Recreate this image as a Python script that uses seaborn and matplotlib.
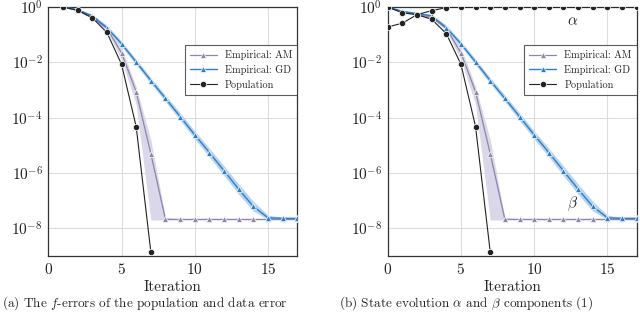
import numpy as np
import pandas as pd
import matplotlib
matplotlib.use('Agg')
import matplotlib.pyplot as plt
import seaborn as sns

# ---- datos ----
it_left = list(range(1, 18))
am_left = [1.0, 0.76, 0.41, 0.17, 0.022, 8.6e-4, 5e-6, 2.1e-8, 2.1e-8, 2.1e-8,
           2.1e-8, 2.1e-8, 2.1e-8, 2.1e-8, 2.1e-8, 2.1e-8, 2.1e-8]
am_left_lo = [0.97, 0.72, 0.38, 0.14, 0.012, 3e-4, 2e-8, 2e-8, 2e-8, 2e-8,
              2e-8, 2e-8, 2e-8, 2e-8, 2e-8, 2e-8, 2e-8]
am_left_hi = [1.0, 0.8, 0.45, 0.2, 0.035, 1.3e-3, 1.6e-5, 2.5e-8, 2.2e-8, 2.2e-8,
              2.2e-8, 2.2e-8, 2.2e-8, 2.2e-8, 2.2e-8, 2.2e-8, 2.2e-8]
gd_left = [1.0, 0.8, 0.48, 0.18, 0.047, 0.0103, 2.2e-3, 5e-4, 1.1e-4, 2.4e-5,
           5.5e-6, 1.2e-6, 2.6e-7, 6.2e-8, 2.4e-8, 2.3e-8, 2.3e-8]
gd_left_lo = [0.97, 0.74, 0.43, 0.15, 0.038, 0.008, 1.7e-3, 3.8e-4, 8e-5, 1.7e-5,
              3.8e-6, 8e-7, 1.7e-7, 4.2e-8, 2.1e-8, 2.2e-8, 2.2e-8]
gd_left_hi = [1.0, 0.86, 0.54, 0.22, 0.058, 0.013, 2.8e-3, 6.5e-4, 1.5e-4, 3.3e-5,
              7.8e-6, 1.8e-6, 4e-7, 9.5e-8, 3e-8, 2.5e-8, 2.4e-8]
it_pop_left = [1, 2, 3, 4, 5, 6, 7]
pop_left = [1.0, 0.76, 0.41, 0.12, 0.0085, 4.7e-5, 1.4e-9]

it_right = list(range(0, 18))
am_right = [1.0, 0.65, 0.55, 0.42] + am_left[3:]
am_right_lo = [0.97, 0.6, 0.5, 0.38] + am_left_lo[3:]
am_right_hi = [1.0, 0.7, 0.6, 0.46] + am_left_hi[3:]
gd_right = [1.0, 0.7, 0.58, 0.48] + gd_left[3:]
gd_right_lo = [0.97, 0.65, 0.53, 0.43] + gd_left_lo[3:]
gd_right_hi = [1.0, 0.75, 0.63, 0.54] + gd_left_hi[3:]
it_beta = [0, 1, 2, 3, 4, 5, 6, 7]
beta = [1.0, 0.62, 0.53, 0.36, 0.11, 0.0085, 4.7e-5, 1.4e-9]
alpha = [0.19, 0.26, 0.53, 0.74, 0.95, 1.0, 1.0, 1.0, 1.0, 1.0, 1.0, 1.0,
         1.0, 1.0, 1.0, 1.0, 1.0, 1.0]

xticks = [0, 5, 10, 15]
yticks = [1e0, 1e-2, 1e-4, 1e-6, 1e-8]

caption_a = '(a) The $f$-errors of the population and data error'
caption_b = r'(b) State evolution $\alpha$ and $\beta$ components (1)'

# ---- estilo ----
sns.set_theme(style="whitegrid")
plt.rcParams['font.family'] = ['cmr10', 'DejaVu Serif']
plt.rcParams['mathtext.fontset'] = 'cm'
plt.rcParams['axes.formatter.use_mathtext'] = True

c_am = '#8c86aa'
c_am_band = '#d9d7e8'
c_gd = '#2b7fc9'
c_gd_band = '#b7d3ee'
c_pop = '#222222'

fig = plt.figure(figsize=(6.4, 3.12), dpi=100)
ax1 = fig.add_axes([0.0755, 0.1795, 0.389, 0.798])
ax2 = fig.add_axes([0.6058, 0.1795, 0.389, 0.798])


def draw_emp(ax, x, am, am_lo, am_hi, gd, gd_lo, gd_hi):
    ax.fill_between(x, am_lo, am_hi, color=c_am_band, lw=0, zorder=1)
    ax.fill_between(x, gd_lo, gd_hi, color=c_gd_band, lw=0, zorder=1)
    sns.lineplot(x=x, y=am, ax=ax, color=c_am, marker='^', markersize=4,
                 markeredgewidth=0.5, linewidth=0.9, label='Empirical: AM', zorder=3)
    sns.lineplot(x=x, y=gd, ax=ax, color=c_gd, marker='^', markersize=4,
                 markeredgewidth=0.5, linewidth=1.0, label='Empirical: GD', zorder=3)


draw_emp(ax1, it_left, am_left, am_left_lo, am_left_hi, gd_left, gd_left_lo, gd_left_hi)
sns.lineplot(x=it_pop_left, y=pop_left, ax=ax1, color=c_pop, marker='o', markersize=4.5,
             markeredgewidth=0.5, linewidth=0.8, label='Population', zorder=4)

draw_emp(ax2, it_right, am_right, am_right_lo, am_right_hi, gd_right, gd_right_lo, gd_right_hi)
sns.lineplot(x=it_beta, y=beta, ax=ax2, color=c_pop, marker='o', markersize=4.5,
             markeredgewidth=0.5, linewidth=0.8, label='Population', zorder=4)
sns.lineplot(x=it_right, y=alpha, ax=ax2, color=c_pop, marker='o', markersize=4.5,
             markeredgewidth=0.5, linewidth=0.8, zorder=4)
ax2.text(12.6, 0.29, r'$\alpha$', fontsize=11, ha='center', va='center')
ax2.text(12.6, 8e-8, r'$\beta$', fontsize=11, ha='center', va='center')

for ax in (ax1, ax2):
    ax.set_yscale('log')
    ax.set_xlim(0, 17)
    ax.set_ylim(1e-9, 1.0)
    ax.set_xticks(xticks)
    ax.set_yticks(yticks)
    ax.minorticks_off()
    ax.tick_params(axis='both', labelsize=11, length=3, direction='in', pad=4,
                   colors='#222222')
    ax.grid(True, color='#dddddd', linewidth=0.8)
    for s in ax.spines.values():
        s.set_color('#333333')
        s.set_linewidth(0.9)
    ax.set_xlabel('Iteration', fontsize=11, labelpad=3)
    ax.set_ylabel('')
    leg = ax.legend(loc='upper right', bbox_to_anchor=(1.0, 0.847), borderaxespad=0,
                    fontsize=7.4, frameon=True, fancybox=False, edgecolor='#333333',
                    handlelength=2.6, borderpad=0.5, labelspacing=0.45)
    leg.get_frame().set_linewidth(0.8)

fig.text(0.003, 0.0, caption_a, fontsize=9.5, ha='left', va='bottom',
         family=['cmr10', 'DejaVu Serif'])
fig.text(0.53, 0.0, caption_b, fontsize=9.5, ha='left', va='bottom',
         family=['cmr10', 'DejaVu Serif'])

plt.savefig('out.png', dpi=100)
